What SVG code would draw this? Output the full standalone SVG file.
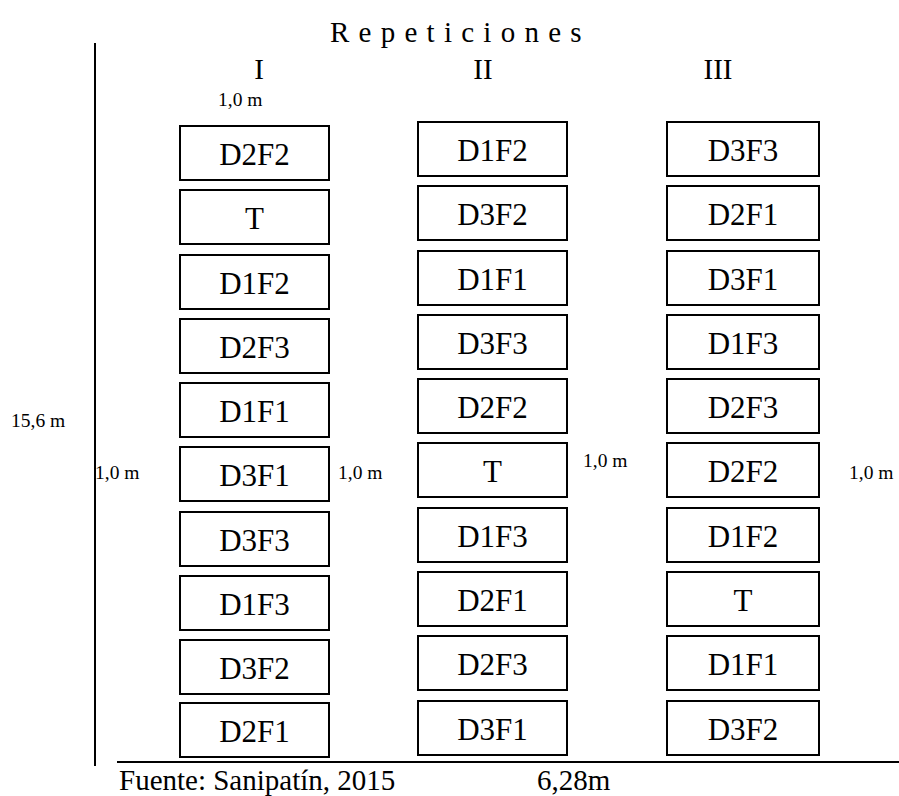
<svg xmlns="http://www.w3.org/2000/svg" width="899" height="796" viewBox="0 0 899 796">
  <style>
    .box { fill: #ffffff; stroke: #000000; stroke-width: 2; }
    .name { font-family: "Liberation Serif", "Times New Roman", serif; font-size: 31px; text-anchor: middle; fill: #000000; }
    .lbl { font-family: "Liberation Serif", "Times New Roman", serif; font-size: 19.5px; fill: #000000; }
    .big { font-family: "Liberation Serif", "Times New Roman", serif; font-size: 29px; fill: #000000; }
    .axis { stroke: #000000; stroke-width: 2; fill: none; }
  </style>
  <rect width="899" height="796" fill="#ffffff"/>

  <!-- field boundaries -->
  <g id="connectors">
    <line class="axis" x1="95" y1="43" x2="95" y2="766"/>
    <line class="axis" x1="117" y1="762" x2="899" y2="762"/>
  </g>

  <!-- headings -->
  <text class="big" x="330" y="42" letter-spacing="1">R e p e t i c i o n e s</text>
  <text class="big" x="259" y="79" text-anchor="middle" font-size="30">I</text>
  <text class="big" x="483" y="79" text-anchor="middle" font-size="30">II</text>
  <text class="big" x="718" y="79" text-anchor="middle" font-size="30">III</text>

  <!-- dimensions -->
  <text class="lbl" x="218" y="106">1,0 m</text>
  <text class="lbl" x="11" y="427">15,6 m</text>
  <text class="lbl" x="95" y="479">1,0 m</text>
  <text class="lbl" x="338" y="479">1,0 m</text>
  <text class="lbl" x="583" y="467">1,0 m</text>
  <text class="lbl" x="849" y="479">1,0 m</text>
  <text class="big" x="119" y="790">Fuente: Sanipatín, 2015</text>
  <text class="big" x="537" y="790">6,28m</text>

  <!-- repetition I -->
  <g id="rep-I">
    <g id="I-1"><rect class="box" x="180" y="126" width="149" height="54"/><text class="name" x="254.5" y="165">D2F2</text></g>
    <g id="I-2"><rect class="box" x="180" y="190" width="149" height="54"/><text class="name" x="254.5" y="229">T</text></g>
    <g id="I-3"><rect class="box" x="180" y="255" width="149" height="54"/><text class="name" x="254.5" y="294">D1F2</text></g>
    <g id="I-4"><rect class="box" x="180" y="319" width="149" height="54"/><text class="name" x="254.5" y="358">D2F3</text></g>
    <g id="I-5"><rect class="box" x="180" y="383" width="149" height="54"/><text class="name" x="254.5" y="422">D1F1</text></g>
    <g id="I-6"><rect class="box" x="180" y="447" width="149" height="54"/><text class="name" x="254.5" y="486">D3F1</text></g>
    <g id="I-7"><rect class="box" x="180" y="512" width="149" height="54"/><text class="name" x="254.5" y="551">D3F3</text></g>
    <g id="I-8"><rect class="box" x="180" y="576" width="149" height="54"/><text class="name" x="254.5" y="615">D1F3</text></g>
    <g id="I-9"><rect class="box" x="180" y="640" width="149" height="54"/><text class="name" x="254.5" y="679">D3F2</text></g>
    <g id="I-10"><rect class="box" x="180" y="703" width="149" height="54"/><text class="name" x="254.5" y="742">D2F1</text></g>
  </g>

  <!-- repetition II -->
  <g id="rep-II">
    <g id="II-1"><rect class="box" x="418" y="122" width="149" height="54"/><text class="name" x="492.5" y="161">D1F2</text></g>
    <g id="II-2"><rect class="box" x="418" y="186" width="149" height="54"/><text class="name" x="492.5" y="225">D3F2</text></g>
    <g id="II-3"><rect class="box" x="418" y="251" width="149" height="54"/><text class="name" x="492.5" y="290">D1F1</text></g>
    <g id="II-4"><rect class="box" x="418" y="315" width="149" height="54"/><text class="name" x="492.5" y="354">D3F3</text></g>
    <g id="II-5"><rect class="box" x="418" y="379" width="149" height="54"/><text class="name" x="492.5" y="418">D2F2</text></g>
    <g id="II-6"><rect class="box" x="418" y="443" width="149" height="54"/><text class="name" x="492.5" y="482">T</text></g>
    <g id="II-7"><rect class="box" x="418" y="508" width="149" height="54"/><text class="name" x="492.5" y="547">D1F3</text></g>
    <g id="II-8"><rect class="box" x="418" y="572" width="149" height="54"/><text class="name" x="492.5" y="611">D2F1</text></g>
    <g id="II-9"><rect class="box" x="418" y="636" width="149" height="54"/><text class="name" x="492.5" y="675">D2F3</text></g>
    <g id="II-10"><rect class="box" x="418" y="701" width="149" height="54"/><text class="name" x="492.5" y="740">D3F1</text></g>
  </g>

  <!-- repetition III -->
  <g id="rep-III">
    <g id="III-1"><rect class="box" x="667" y="122" width="152" height="54"/><text class="name" x="743" y="161">D3F3</text></g>
    <g id="III-2"><rect class="box" x="667" y="186" width="152" height="54"/><text class="name" x="743" y="225">D2F1</text></g>
    <g id="III-3"><rect class="box" x="667" y="251" width="152" height="54"/><text class="name" x="743" y="290">D3F1</text></g>
    <g id="III-4"><rect class="box" x="667" y="315" width="152" height="54"/><text class="name" x="743" y="354">D1F3</text></g>
    <g id="III-5"><rect class="box" x="667" y="379" width="152" height="54"/><text class="name" x="743" y="418">D2F3</text></g>
    <g id="III-6"><rect class="box" x="667" y="443" width="152" height="54"/><text class="name" x="743" y="482">D2F2</text></g>
    <g id="III-7"><rect class="box" x="667" y="508" width="152" height="54"/><text class="name" x="743" y="547">D1F2</text></g>
    <g id="III-8"><rect class="box" x="667" y="572" width="152" height="54"/><text class="name" x="743" y="611">T</text></g>
    <g id="III-9"><rect class="box" x="667" y="636" width="152" height="54"/><text class="name" x="743" y="675">D1F1</text></g>
    <g id="III-10"><rect class="box" x="667" y="701" width="152" height="54"/><text class="name" x="743" y="740">D3F2</text></g>
  </g>
</svg>
